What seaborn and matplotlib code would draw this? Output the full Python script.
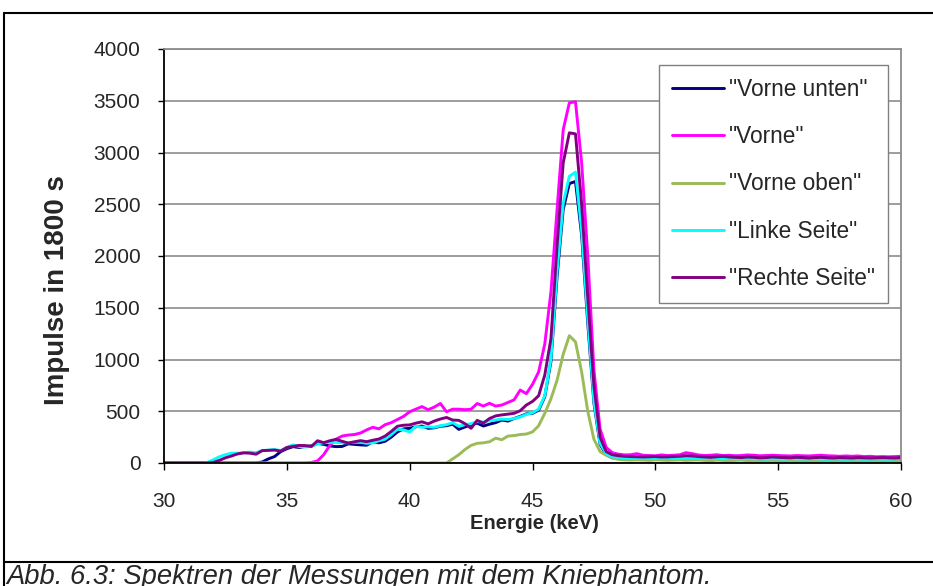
import numpy as np
import pandas as pd
import matplotlib
matplotlib.use("Agg")
import matplotlib.pyplot as plt
import seaborn as sns

# Channel energies (keV), 0.25 keV per channel
energie = np.arange(121) * 0.25 + 30.0

# Counts per channel, one row per 2 keV (8 channels), last value at 60 keV
vorne_unten = [
    0, 0, 0, 0, 0, 0, 0, 0,
    0, 0, 0, 0, 0, 0, 0, 0,
    10, 40, 62, 110, 138, 158, 150, 160,
    165, 190, 180, 165, 158, 160, 185, 180,
    175, 172, 205, 195, 210, 250, 300, 330,
    335, 350, 357, 335, 340, 355, 360, 375,
    325, 348, 370, 385, 357, 375, 390, 415,
    405, 430, 450, 475, 480, 510, 640, 980,
    1800, 2450, 2700, 2720, 2200, 1350, 580, 180,
    80, 50, 50, 48, 45, 48, 45, 42,
    48, 45, 42, 48, 50, 45, 48, 42,
    45, 48, 42, 45, 48, 42, 40, 45,
    42, 48, 45, 40, 42, 45, 40, 42,
    45, 40, 42, 44, 40, 42, 45, 40,
    42, 40, 44, 40, 42, 40, 44, 42,
    45,
]

vorne = [
    0, 0, 0, 0, 0, 0, 0, 0,
    0, 0, 0, 0, 0, 0, 0, 0,
    0, 0, 0, 0, 0, 0, 0, 0,
    5, 20, 80, 170, 230, 260, 270, 275,
    290, 320, 345, 330, 370, 390, 420, 450,
    495, 520, 545, 515, 540, 575, 495, 520,
    520, 515, 520, 575, 550, 577, 550, 560,
    585, 610, 705, 670, 760, 880, 1150, 1650,
    2450, 3220, 3480, 3490, 2900, 2000, 900, 330,
    150, 100, 85, 78, 80, 90, 75, 72,
    70, 78, 72, 75, 80, 100, 90, 78,
    72, 75, 80, 72, 75, 70, 72, 78,
    75, 70, 72, 75, 72, 70, 68, 72,
    70, 68, 72, 75, 70, 68, 65, 68,
    65, 68, 62, 65, 60, 62, 60, 62,
    65,
]

vorne_oben = [
    0, 0, 0, 0, 0, 0, 0, 0,
    0, 0, 0, 0, 0, 0, 0, 0,
    0, 0, 0, 0, 0, 0, 0, 0,
    0, 0, 0, 0, 0, 0, 0, 0,
    0, 0, 0, 0, 0, 0, 0, 0,
    0, 0, 0, 0, 0, 0, 0, 40,
    80, 130, 170, 190, 195, 205, 240, 225,
    260, 265, 275, 280, 300, 360, 480, 620,
    800, 1050, 1230, 1170, 880, 500, 230, 110,
    75, 50, 35, 30, 28, 30, 28, 25,
    30, 28, 25, 28, 30, 25, 28, 30,
    25, 22, 28, 25, 22, 25, 28, 22,
    25, 20, 22, 25, 20, 22, 25, 20,
    22, 20, 18, 22, 20, 18, 20, 22,
    18, 20, 18, 20, 22, 20, 18, 20,
    22,
]

linke_seite = [
    0, 0, 0, 0, 0, 0, 0, 5,
    30, 60, 80, 95, 95, 100, 105, 100,
    120, 125, 130, 120, 150, 175, 160, 155,
    160, 185, 195, 200, 200, 195, 195, 200,
    200, 190, 195, 215, 230, 275, 325, 320,
    300, 355, 345, 350, 345, 360, 370, 390,
    355, 370, 380, 400, 395, 410, 415, 425,
    420, 430, 445, 470, 485, 520, 650, 1000,
    1850, 2510, 2770, 2810, 2250, 1400, 600, 190,
    90, 60, 55, 50, 48, 45, 50, 48,
    45, 50, 55, 48, 45, 50, 48, 45,
    42, 48, 45, 40, 45, 42, 40, 45,
    42, 40, 38, 42, 40, 38, 42, 40,
    38, 40, 42, 38, 36, 40, 38, 36,
    38, 40, 36, 38, 40, 38, 36, 40,
    42,
]

rechte_seite = [
    0, 0, 0, 0, 0, 0, 0, 0,
    5, 25, 50, 68, 88, 98, 95, 85,
    120, 122, 125, 115, 150, 160, 170, 168,
    160, 215, 196, 215, 228, 210, 192, 205,
    216, 206, 220, 232, 260, 305, 355, 365,
    368, 385, 398, 378, 405, 425, 440, 415,
    412, 380, 335, 412, 385, 430, 455, 465,
    472, 480, 505, 560, 595, 650, 850, 1200,
    2100, 2900, 3190, 3180, 2500, 1600, 750, 250,
    110, 80, 70, 65, 62, 60, 58, 60,
    62, 58, 60, 62, 65, 70, 68, 62,
    58, 55, 60, 65, 58, 55, 52, 58,
    55, 50, 52, 58, 55, 52, 50, 55,
    52, 48, 52, 55, 50, 48, 52, 50,
    48, 52, 50, 48, 50, 52, 50, 48,
    52,
]

messungen = ['"Vorne unten"', '"Vorne"', '"Vorne oben"', '"Linke Seite"', '"Rechte Seite"']
farben = ["#000080", "#FF00FF", "#9BBB59", "#00FFFF", "#800080"]
x_ticks = [30, 35, 40, 45, 50, 55, 60]
y_ticks = [0, 500, 1000, 1500, 2000, 2500, 3000, 3500, 4000]

df = pd.concat(
    [pd.DataFrame({"Energie": energie, "Impulse": werte, "Messung": name})
     for name, werte in zip(messungen,
                            [vorne_unten, vorne, vorne_oben, linke_seite, rechte_seite])],
    ignore_index=True,
)

sns.set_style("white")
plt.rcParams["font.family"] = ["Liberation Sans", "DejaVu Sans"]

fig = plt.figure(figsize=(9.33, 5.86), dpi=100)
ax = fig.add_axes([164 / 933, 1 - 463 / 586, (901 - 164) / 933, (463 - 49) / 586])

sns.lineplot(data=df, x="Energie", y="Impulse", hue="Messung", hue_order=messungen,
             palette=farben, linewidth=2.1, estimator=None, sort=False, ax=ax)

ax.set_xlim(30, 60)
ax.set_ylim(0, 4000)
ax.set_xticks(x_ticks)
ax.set_yticks(y_ticks)
ax.set_xticklabels([str(t) for t in x_ticks])
ax.set_yticklabels([str(t) for t in y_ticks])

ax.yaxis.grid(True, color="#8c8c8c", linewidth=1.2)
ax.xaxis.grid(False)
ax.set_axisbelow(True)

for side in ("left", "bottom"):
    ax.spines[side].set_color("black")
    ax.spines[side].set_linewidth(1.3)
for side in ("top", "right"):
    ax.spines[side].set_color("#8c8c8c")
    ax.spines[side].set_linewidth(1.3)

ax.tick_params(axis="y", direction="out", length=4, width=1, color="black",
               labelsize=15, pad=13, left=True)
ax.tick_params(axis="x", direction="out", length=5, width=1, color="black",
               labelsize=15, pad=16, bottom=True)

ax.set_xlabel("Energie (keV)", fontsize=14.5, fontweight="bold")
ax.set_ylabel("Impulse in 1800 s", fontsize=20, fontweight="bold")
ax.xaxis.set_label_coords(0.502, -0.122)
ax.yaxis.set_label_coords(-0.128, 0.418)

handles, labels = ax.get_legend_handles_labels()
leg = ax.legend(handles, labels, loc="upper right", bbox_to_anchor=(0.982, 0.961),
                borderaxespad=0, frameon=True, fancybox=False, framealpha=1,
                edgecolor="#808080", fontsize=16.3, handlelength=2.3,
                handletextpad=0.25, labelspacing=1.08, borderpad=0.55)
leg.get_frame().set_linewidth(1.0)
for line in leg.get_lines():
    line.set_linewidth(2.1)

# Outer frame and caption strip
x_l, x_r = 4 / 933, 1.0
y_t, y_s = 1 - 13 / 586, 1 - 562 / 586
for xs, ys in [((x_l, x_r), (y_t, y_t)), ((x_l, x_l), (0, y_t)),
               ((x_l, x_r), (y_s, y_s))]:
    fig.add_artist(plt.Line2D(xs, ys, color="black", linewidth=1.5,
                              transform=fig.transFigure))

fig.text(6 / 933, 1 - 584 / 586, "Abb. 6.3: Spektren der Messungen mit dem Kniephantom.",
         fontsize=19.7, style="italic", va="baseline", ha="left")

fig.savefig("out.png", dpi=100)
